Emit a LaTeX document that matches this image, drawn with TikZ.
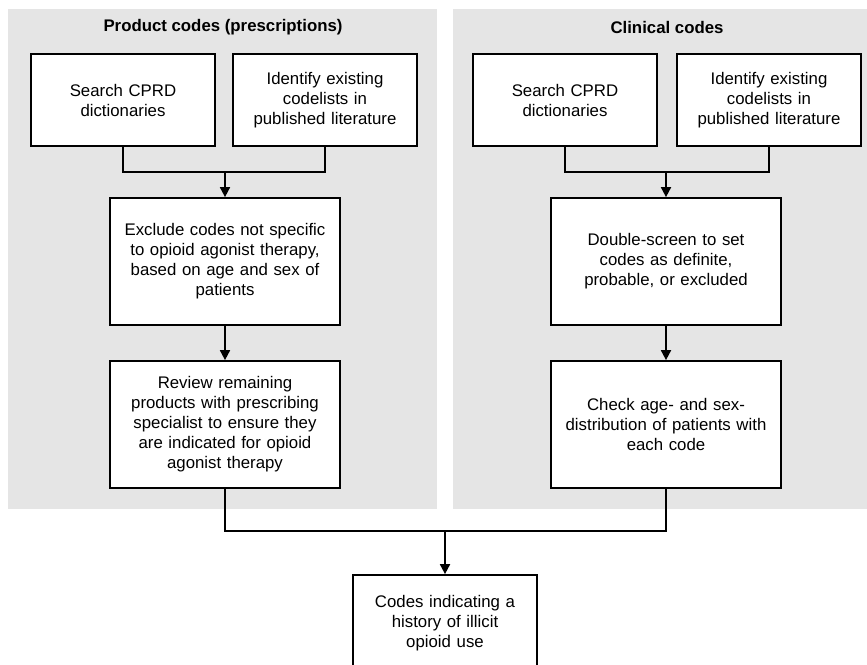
\documentclass[tikz,border=0pt]{standalone}
\usepackage{fontspec}
\setmainfont{Liberation Sans}
\usetikzlibrary{arrows.meta}
\definecolor{panelgray}{HTML}{E5E5E5}
\begin{document}
\begin{tikzpicture}[x=0.75pt,y=-0.75pt,
  panel/.style={fill=panelgray,draw=none},
  ttl/.style={font=\fontsize{12.6}{15}\selectfont\bfseries,inner sep=0pt},
  boxa/.style={draw=black,line width=1.3pt,fill=white,inner sep=0pt,align=center,
     font=\fontsize{12.6}{15}\selectfont},
  wl/.style={line width=1.3pt},
  arr/.style={wl,-{Triangle[width=7.5pt,length=7.5pt]}}]
\useasboundingbox (0,0) rectangle (867,664);
\begin{scope}
\clip (0,0) rectangle (867,664);
% panels
\path[panel] (8,9) rectangle (437,509);
\path[panel] (453,9) rectangle (867,509);
\node[ttl] (t1) at (223,27) {Product codes (prescriptions)};
\node[ttl] (t2) at (667,27) {Clinical codes};
% left column
\node[boxa,minimum width=184*0.75pt,minimum height=92*0.75pt,text width=170*0.75pt] (a1) at (123,100) {Search CPRD\\dictionaries};
\node[boxa,minimum width=184*0.75pt,minimum height=92*0.75pt,text width=178*0.75pt] (a2) at (325,100) {Identify existing\\codelists in\\published literature};
\node[boxa,minimum width=230*0.75pt,minimum height=127*0.75pt,text width=224*0.75pt] (a3) at (225,261.5) {Exclude codes not specific\\to opioid agonist therapy,\\based on age and sex of\\patients};
\node[boxa,minimum width=230*0.75pt,minimum height=127*0.75pt,text width=224*0.75pt] (a4) at (225,424.5) {Review remaining\\products with prescribing\\specialist to ensure they\\are indicated for opioid\\agonist therapy};
% right column
\node[boxa,minimum width=184*0.75pt,minimum height=92*0.75pt,text width=170*0.75pt] (b1) at (565,100) {Search CPRD\\dictionaries};
\node[boxa,minimum width=184*0.75pt,minimum height=92*0.75pt,text width=178*0.75pt] (b2) at (769,100) {Identify existing\\codelists in\\published literature};
\node[boxa,minimum width=230*0.75pt,minimum height=127*0.75pt,text width=224*0.75pt] (b3) at (666,261.5) {Double-screen to set\\codes as definite,\\probable, or excluded};
\node[boxa,minimum width=230*0.75pt,minimum height=127*0.75pt,text width=224*0.75pt] (b4) at (666,424.5) {Check age- and sex-\\distribution of patients with\\each code};
% final
\node[boxa,minimum width=184*0.75pt,minimum height=96*0.75pt,text width=178*0.75pt] (f) at (445,623) {Codes indicating a\\history of illicit\\opioid use};
% junctions
\coordinate (ja) at (225,172);
\coordinate (jb) at (666,172);
\coordinate (jf) at (445,531);
% connectors
\draw[wl] (a1.south) |- (ja) -| (a2.south);
\draw[arr] (ja) -- (a3.north);
\draw[arr] (a3.south) -- (a4.north);
\draw[wl] (b1.south) |- (jb) -| (b2.south);
\draw[arr] (jb) -- (b3.north);
\draw[arr] (b3.south) -- (b4.north);
\draw[wl] (a4.south) |- (jf) -| (b4.south);
\draw[arr] (jf) -- (f.north);
\end{scope}
\end{tikzpicture}
\end{document}
